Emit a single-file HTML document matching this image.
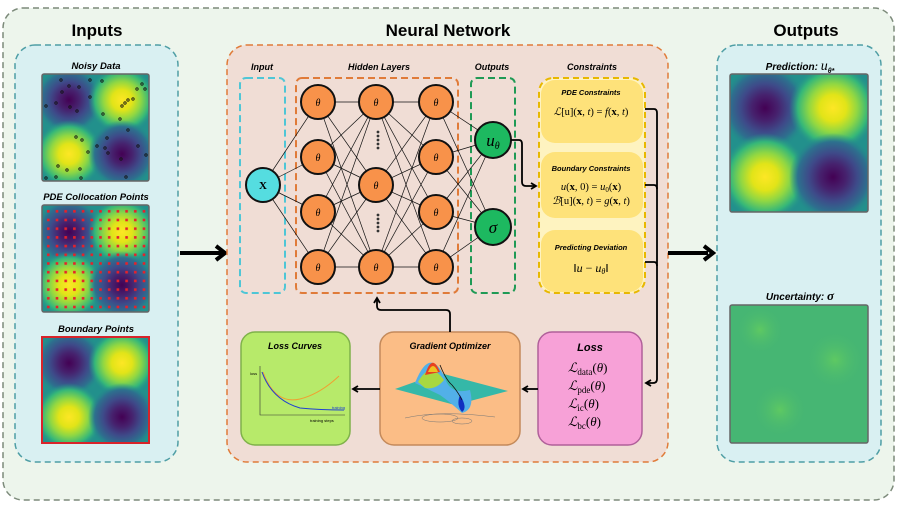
<!DOCTYPE html>
<html><head><meta charset="utf-8"><style>
body{margin:0;background:#fff;}
svg{display:block}
.t{font-family:"Liberation Sans",sans-serif;font-weight:bold;}
.i{font-family:"Liberation Sans",sans-serif;font-weight:bold;font-style:italic;}
.m{font-family:"Liberation Serif",serif;}
</style></head><body>
<svg width="897" height="505" viewBox="0 0 897 505" xmlns="http://www.w3.org/2000/svg">
<defs>
<radialGradient id="yel"><stop offset="0" stop-color="#fde725"/><stop offset="0.3" stop-color="#e2e418"/><stop offset="0.55" stop-color="#90d743"/><stop offset="0.8" stop-color="#35b779"/><stop offset="1" stop-color="#22908c" stop-opacity="0"/></radialGradient>
<radialGradient id="pur"><stop offset="0" stop-color="#440154"/><stop offset="0.3" stop-color="#46226e"/><stop offset="0.55" stop-color="#3e4a89"/><stop offset="0.8" stop-color="#2d708e"/><stop offset="1" stop-color="#22908c" stop-opacity="0"/></radialGradient>
<radialGradient id="unc"><stop offset="0" stop-color="#5ec962"/><stop offset="1" stop-color="#46b673" stop-opacity="0"/></radialGradient>
<pattern id="dots" x="45" y="208" width="8.7" height="8.7" patternUnits="userSpaceOnUse"><rect x="2" y="2" width="2.6" height="2.6" fill="#e8202a"/></pattern>
<clipPath id="c1"><rect x="42" y="74" width="107" height="107"/></clipPath>
<clipPath id="c2"><rect x="42" y="205" width="107" height="107"/></clipPath>
<clipPath id="c3"><rect x="42" y="337" width="107" height="106"/></clipPath>
<clipPath id="c4"><rect x="730" y="74" width="138" height="138"/></clipPath>
<clipPath id="c5"><rect x="730" y="305" width="138" height="138"/></clipPath>
<marker id="ah" markerWidth="8" markerHeight="8" refX="6" refY="4" orient="auto" markerUnits="userSpaceOnUse"><path d="M1,1 L6,4 L1,7" fill="none" stroke="#000" stroke-width="1.8"/></marker>
</defs>
<rect x="3" y="8" width="891" height="492" rx="20" fill="#edf5ec" stroke="#7c8a7a" stroke-width="1.5" stroke-dasharray="6,4"/>
<!-- Inputs -->
<text x="97" y="36" class="t" font-size="17" text-anchor="middle">Inputs</text>
<rect x="15" y="45" width="163" height="417" rx="20" fill="#d9f0f2" stroke="#4f9ea5" stroke-width="1.5" stroke-dasharray="6,4"/>
<text x="96" y="69" class="i" font-size="9.5" text-anchor="middle">Noisy Data</text>
<g clip-path="url(#c1)">
<rect x="42" y="74" width="107" height="107" fill="#22908c"/>
<circle cx="69" cy="100" r="34" fill="url(#pur)"/><circle cx="122" cy="100" r="34" fill="url(#yel)"/>
<circle cx="69" cy="154" r="34" fill="url(#yel)"/><circle cx="122" cy="154" r="34" fill="url(#pur)"/>
</g>
<rect x="42" y="74" width="107" height="107" rx="2" fill="none" stroke="#666" stroke-width="1.5"/>
<g fill="none" stroke="#111" stroke-width="0.8">
<circle cx="61" cy="80" r="1.2"/><circle cx="69" cy="86" r="1.2"/><circle cx="79" cy="87" r="1.2"/><circle cx="62" cy="92" r="1.2"/><circle cx="90" cy="80" r="1.2"/><circle cx="102" cy="81" r="1.2"/><circle cx="46" cy="106" r="1.2"/><circle cx="56" cy="103" r="1.2"/><circle cx="70" cy="107" r="1.2"/><circle cx="77" cy="111" r="1.2"/><circle cx="90" cy="97" r="1.2"/><circle cx="122" cy="106" r="1.2"/><circle cx="125" cy="103" r="1.2"/><circle cx="128" cy="100" r="1.2"/><circle cx="133" cy="99" r="1.2"/><circle cx="142" cy="84" r="1.2"/><circle cx="145" cy="89" r="1.2"/><circle cx="137" cy="89" r="1.2"/><circle cx="103" cy="114" r="1.2"/><circle cx="120" cy="119" r="1.2"/><circle cx="128" cy="130" r="1.2"/><circle cx="76" cy="137" r="1.2"/><circle cx="82" cy="140" r="1.2"/><circle cx="107" cy="138" r="1.2"/><circle cx="97" cy="146" r="1.2"/><circle cx="105" cy="148" r="1.2"/><circle cx="108" cy="153" r="1.2"/><circle cx="138" cy="146" r="1.2"/><circle cx="88" cy="152" r="1.2"/><circle cx="146" cy="155" r="1.2"/><circle cx="121" cy="159" r="1.2"/><circle cx="58" cy="166" r="1.2"/><circle cx="67" cy="170" r="1.2"/><circle cx="80" cy="169" r="1.2"/><circle cx="56" cy="177" r="1.2"/><circle cx="46" cy="178" r="1.2"/><circle cx="81" cy="178" r="1.2"/><circle cx="126" cy="177" r="1.2"/>
</g>
<text x="96" y="200" class="i" font-size="9.5" text-anchor="middle">PDE Collocation Points</text>
<g clip-path="url(#c2)">
<rect x="42" y="205" width="107" height="107" fill="#22908c"/>
<circle cx="69" cy="232" r="34" fill="url(#pur)"/><circle cx="122" cy="232" r="34" fill="url(#yel)"/>
<circle cx="69" cy="285" r="34" fill="url(#yel)"/><circle cx="122" cy="285" r="34" fill="url(#pur)"/>
<rect x="43" y="206" width="105" height="105" fill="url(#dots)"/>
</g>
<rect x="42" y="205" width="107" height="107" rx="2" fill="none" stroke="#666" stroke-width="1.5"/>
<text x="96" y="332" class="i" font-size="9.5" text-anchor="middle">Boundary Points</text>
<g clip-path="url(#c3)">
<rect x="42" y="337" width="107" height="106" fill="#22908c"/>
<circle cx="69" cy="363" r="34" fill="url(#pur)"/><circle cx="122" cy="363" r="34" fill="url(#yel)"/>
<circle cx="69" cy="417" r="34" fill="url(#yel)"/><circle cx="122" cy="417" r="34" fill="url(#pur)"/>
</g>
<rect x="42" y="337" width="107" height="106" fill="none" stroke="#d8232a" stroke-width="2"/>
<path d="M180,253 L222,253" stroke="#000" stroke-width="4"/>
<path d="M216,246 L225,253 L216,260" fill="none" stroke="#000" stroke-width="4"/>
<!-- NN -->
<text x="448" y="36" class="t" font-size="17" text-anchor="middle">Neural Network</text>
<rect x="227" y="45" width="441" height="417" rx="20" fill="#f0ddd5" stroke="#e07b39" stroke-width="1.5" stroke-dasharray="6,4"/>
<text x="262" y="70" class="i" font-size="9" text-anchor="middle">Input</text>
<text x="379" y="70" class="i" font-size="9" text-anchor="middle">Hidden Layers</text>
<text x="492" y="70" class="i" font-size="9" text-anchor="middle">Outputs</text>
<text x="592" y="70" class="i" font-size="9" text-anchor="middle">Constraints</text>
<rect x="240" y="78" width="45" height="215" rx="6" fill="none" stroke="#4fc6d6" stroke-width="2" stroke-dasharray="7,4"/>
<rect x="296" y="78" width="162" height="215" rx="6" fill="none" stroke="#e07b39" stroke-width="2" stroke-dasharray="7,4"/>
<rect x="471" y="78" width="44" height="215" rx="6" fill="none" stroke="#1f9a55" stroke-width="2" stroke-dasharray="7,4"/>
<g stroke="#111" stroke-width="0.7">
<line x1="263" y1="185" x2="318" y2="102"/><line x1="263" y1="185" x2="318" y2="157"/><line x1="263" y1="185" x2="318" y2="212"/><line x1="263" y1="185" x2="318" y2="267"/>
<line x1="318" y1="102" x2="376" y2="102"/><line x1="318" y1="102" x2="376" y2="185"/><line x1="318" y1="102" x2="376" y2="267"/>
<line x1="318" y1="157" x2="376" y2="102"/><line x1="318" y1="157" x2="376" y2="185"/><line x1="318" y1="157" x2="376" y2="267"/>
<line x1="318" y1="212" x2="376" y2="102"/><line x1="318" y1="212" x2="376" y2="185"/><line x1="318" y1="212" x2="376" y2="267"/>
<line x1="318" y1="267" x2="376" y2="102"/><line x1="318" y1="267" x2="376" y2="185"/><line x1="318" y1="267" x2="376" y2="267"/>
<line x1="376" y1="102" x2="436" y2="102"/><line x1="376" y1="102" x2="436" y2="157"/><line x1="376" y1="102" x2="436" y2="212"/><line x1="376" y1="102" x2="436" y2="267"/>
<line x1="376" y1="185" x2="436" y2="102"/><line x1="376" y1="185" x2="436" y2="157"/><line x1="376" y1="185" x2="436" y2="212"/><line x1="376" y1="185" x2="436" y2="267"/>
<line x1="376" y1="267" x2="436" y2="102"/><line x1="376" y1="267" x2="436" y2="157"/><line x1="376" y1="267" x2="436" y2="212"/><line x1="376" y1="267" x2="436" y2="267"/>
<line x1="436" y1="102" x2="493" y2="140"/><line x1="436" y1="102" x2="493" y2="227"/><line x1="436" y1="157" x2="493" y2="140"/><line x1="436" y1="157" x2="493" y2="227"/>
<line x1="436" y1="212" x2="493" y2="140"/><line x1="436" y1="212" x2="493" y2="227"/><line x1="436" y1="267" x2="493" y2="140"/><line x1="436" y1="267" x2="493" y2="227"/>
</g>
<circle cx="263" cy="185" r="17" fill="#55dde0" stroke="#111" stroke-width="2"/>
<text x="263" y="189" class="m" font-size="11" font-weight="bold" text-anchor="middle">X</text>
<g fill="#f8924a" stroke="#111" stroke-width="2">
<circle cx="318" cy="102" r="17"/><circle cx="318" cy="157" r="17"/><circle cx="318" cy="212" r="17"/><circle cx="318" cy="267" r="17"/>
<circle cx="376" cy="102" r="17"/><circle cx="376" cy="185" r="17"/><circle cx="376" cy="267" r="17"/>
<circle cx="436" cy="102" r="17"/><circle cx="436" cy="157" r="17"/><circle cx="436" cy="212" r="17"/><circle cx="436" cy="267" r="17"/>
</g>
<g class="m" font-size="10" font-style="italic" text-anchor="middle">
<text x="318" y="106">θ</text><text x="318" y="161">θ</text><text x="318" y="216">θ</text><text x="318" y="271">θ</text>
<text x="376" y="106">θ</text><text x="376" y="189">θ</text><text x="376" y="271">θ</text>
<text x="436" y="106">θ</text><text x="436" y="161">θ</text><text x="436" y="216">θ</text><text x="436" y="271">θ</text>
</g>
<g fill="#333"><circle cx="378" cy="132" r="1.4"/><circle cx="378" cy="136" r="1.4"/><circle cx="378" cy="140" r="1.4"/><circle cx="378" cy="144" r="1.4"/><circle cx="378" cy="148" r="1.4"/>
<circle cx="378" cy="215" r="1.4"/><circle cx="378" cy="219" r="1.4"/><circle cx="378" cy="223" r="1.4"/><circle cx="378" cy="227" r="1.4"/><circle cx="378" cy="231" r="1.4"/></g>
<circle cx="493" cy="140" r="18" fill="#1db960" stroke="#111" stroke-width="2"/>
<circle cx="493" cy="227" r="18" fill="#1db960" stroke="#111" stroke-width="2"/>
<text x="493" y="146" class="m" font-size="17" font-style="italic" text-anchor="middle">u<tspan font-size="10" dy="3">θ</tspan></text>
<text x="493" y="233" class="m" font-size="17" font-style="italic" text-anchor="middle">σ</text>
<path d="M511,140 L519,140 Q522,140 522,144 L522,182 Q522,186 526,186 L536,186" fill="none" stroke="#000" stroke-width="1.8" marker-end="url(#ah)"/>
<!-- constraints -->
<rect x="539" y="78" width="106" height="215" rx="14" fill="#fef3c0" stroke="#e8b800" stroke-width="2" stroke-dasharray="6,4"/>
<rect x="541" y="80" width="102" height="63" rx="14" fill="#fee27a"/>
<rect x="541" y="152" width="102" height="66" rx="14" fill="#fee27a"/>
<rect x="541" y="230" width="102" height="62" rx="14" fill="#fee27a"/>
<text x="591" y="95" class="i" font-size="7.5" text-anchor="middle">PDE Constraints</text>
<text x="591" y="115" class="m" font-size="10.5" text-anchor="middle"><tspan font-style="italic">ℒ</tspan>[u](<tspan font-weight="bold">x</tspan>, <tspan font-style="italic">t</tspan>) = <tspan font-style="italic">f</tspan>(<tspan font-weight="bold">x</tspan>, <tspan font-style="italic">t</tspan>)</text>
<text x="591" y="171" class="i" font-size="7.5" text-anchor="middle">Boundary Constraints</text>
<text x="591" y="190" class="m" font-size="10.5" text-anchor="middle"><tspan font-style="italic">u</tspan>(<tspan font-weight="bold">x</tspan>, 0) = <tspan font-style="italic">u</tspan><tspan font-size="7" dy="2">0</tspan><tspan dy="-2">(</tspan><tspan font-weight="bold">x</tspan>)</text>
<text x="591" y="204" class="m" font-size="10.5" text-anchor="middle"><tspan font-style="italic">ℬ</tspan>[u](<tspan font-weight="bold">x</tspan>, <tspan font-style="italic">t</tspan>) = <tspan font-style="italic">g</tspan>(<tspan font-weight="bold">x</tspan>, <tspan font-style="italic">t</tspan>)</text>
<text x="591" y="250" class="i" font-size="7.5" text-anchor="middle">Predicting Deviation</text>
<text x="591" y="272" class="m" font-size="12" text-anchor="middle">‖<tspan font-style="italic">u</tspan> − <tspan font-style="italic">u</tspan><tspan font-size="8" dy="2" font-style="italic">θ</tspan><tspan dy="-2">‖</tspan></text>
<path d="M645,109 L654,109 Q657,109 657,113 L657,379 Q657,383 653,383 L646,383" fill="none" stroke="#000" stroke-width="1.8" marker-end="url(#ah)"/>
<path d="M645,185 L654,185 Q657,185 657,189" fill="none" stroke="#000" stroke-width="1.8"/>
<path d="M645,262 L654,262 Q657,262 657,266" fill="none" stroke="#000" stroke-width="1.8"/>
<!-- bottom boxes -->
<rect x="241" y="332" width="109" height="113" rx="14" fill="#b7ea6a" stroke="#7fb24a" stroke-width="1.5"/>
<text x="295" y="349" class="i" font-size="9" text-anchor="middle">Loss Curves</text>
<g stroke="#333" stroke-width="0.6" fill="none">
<path d="M260,366 L260,415 L345,415"/>
<path d="M263,372 Q275,405 300,399 Q320,394 339,376" stroke="#f0a030" stroke-width="1"/>
<path d="M262,372 Q272,400 300,408 Q320,410 344,410" stroke="#2040d0" stroke-width="1"/>
</g>
<text x="250" y="375" font-size="4" font-family="Liberation Sans">loss</text>
<text x="310" y="422" font-size="4" font-family="Liberation Sans">training steps</text>
<text x="332" y="409" font-size="4" font-family="Liberation Sans" fill="#2040d0">training</text>
<rect x="380" y="332" width="140" height="113" rx="14" fill="#fbbd86" stroke="#c48a5b" stroke-width="1.5"/>
<text x="450" y="349" class="i" font-size="9" text-anchor="middle">Gradient Optimizer</text>
<path d="M395,389 L440,373 L508,391 L455,405 Z" fill="#35b8a8"/>
<path d="M415,383 Q430,345 445,378 Q450,395 470,390 Q475,410 462,413 Q450,402 440,395 Z" fill="#52b0e8"/>
<path d="M418,382 Q430,360 444,380 Q436,390 425,388 Z" fill="#a8d840"/>
<path d="M425,375 Q432,352 440,372 Z" fill="#e84020"/>
<path d="M428,372 Q433,360 438,372 Z" fill="#f0c020"/>
<path d="M460,395 Q468,408 462,412 Q456,405 460,395" fill="#1030c0"/>
<path d="M440,365 Q446,380 452,385 Q458,392 462,400" fill="none" stroke="#111" stroke-width="0.8"/>
<g fill="none" stroke="#777" stroke-width="0.5"><ellipse cx="440" cy="418" rx="18" ry="4"/><ellipse cx="462" cy="421" rx="10" ry="3"/><path d="M405,418 Q440,410 495,417"/></g>
<rect x="538" y="332" width="104" height="113" rx="14" fill="#f7a1d7" stroke="#b0609a" stroke-width="1.5"/>
<text x="590" y="351" class="t" font-style="italic" font-size="11" text-anchor="middle">Loss</text>
<g class="m" font-size="13">
<text x="568" y="372"><tspan font-style="italic">ℒ</tspan><tspan font-size="9" dy="3">data</tspan><tspan dy="-3">(</tspan><tspan font-style="italic">θ</tspan>)</text>
<text x="568" y="390"><tspan font-style="italic">ℒ</tspan><tspan font-size="9" dy="3">pde</tspan><tspan dy="-3">(</tspan><tspan font-style="italic">θ</tspan>)</text>
<text x="568" y="408"><tspan font-style="italic">ℒ</tspan><tspan font-size="9" dy="3">ic</tspan><tspan dy="-3">(</tspan><tspan font-style="italic">θ</tspan>)</text>
<text x="568" y="426"><tspan font-style="italic">ℒ</tspan><tspan font-size="9" dy="3">bc</tspan><tspan dy="-3">(</tspan><tspan font-style="italic">θ</tspan>)</text>
</g>
<path d="M538,389 L523,389" stroke="#000" stroke-width="1.8" marker-end="url(#ah)"/>
<path d="M380,389 L353,389" stroke="#000" stroke-width="1.8" marker-end="url(#ah)"/>
<path d="M450,332 L450,314 Q450,310 446,310 L381,310 Q377,310 377,306 L377,298" fill="none" stroke="#000" stroke-width="1.8" marker-end="url(#ah)"/>
<!-- big arrow -->
<path d="M668,253 L708,253" stroke="#000" stroke-width="4"/>
<path d="M704,246 L713,253 L704,260" fill="none" stroke="#000" stroke-width="4"/>
<!-- outputs -->
<text x="806" y="36" class="t" font-size="17" text-anchor="middle">Outputs</text>
<rect x="717" y="45" width="164" height="417" rx="20" fill="#d9f0f2" stroke="#4f9ea5" stroke-width="1.5" stroke-dasharray="6,4"/>
<text x="800" y="70" class="i" font-size="10" text-anchor="middle">Prediction: <tspan class="m" font-size="14" font-weight="normal">u</tspan><tspan font-size="7" dy="3">θ*</tspan></text>
<g clip-path="url(#c4)">
<rect x="730" y="74" width="138" height="138" fill="#22908c"/>
<circle cx="765" cy="108" r="44" fill="url(#pur)"/><circle cx="833" cy="108" r="44" fill="url(#yel)"/>
<circle cx="765" cy="177" r="44" fill="url(#yel)"/><circle cx="833" cy="177" r="44" fill="url(#pur)"/>
</g>
<rect x="730" y="74" width="138" height="138" rx="2" fill="none" stroke="#666" stroke-width="1.5"/>
<text x="800" y="300" class="i" font-size="10" text-anchor="middle">Uncertainty: <tspan class="m" font-size="13">σ</tspan></text>
<g clip-path="url(#c5)">
<rect x="730" y="305" width="138" height="138" fill="#46b673"/>
<circle cx="760" cy="330" r="25" fill="url(#unc)"/><circle cx="835" cy="360" r="30" fill="url(#unc)"/><circle cx="780" cy="410" r="28" fill="url(#unc)"/>
</g>
<rect x="730" y="305" width="138" height="138" rx="2" fill="none" stroke="#666" stroke-width="1.5"/>
</svg>
</body></html>
